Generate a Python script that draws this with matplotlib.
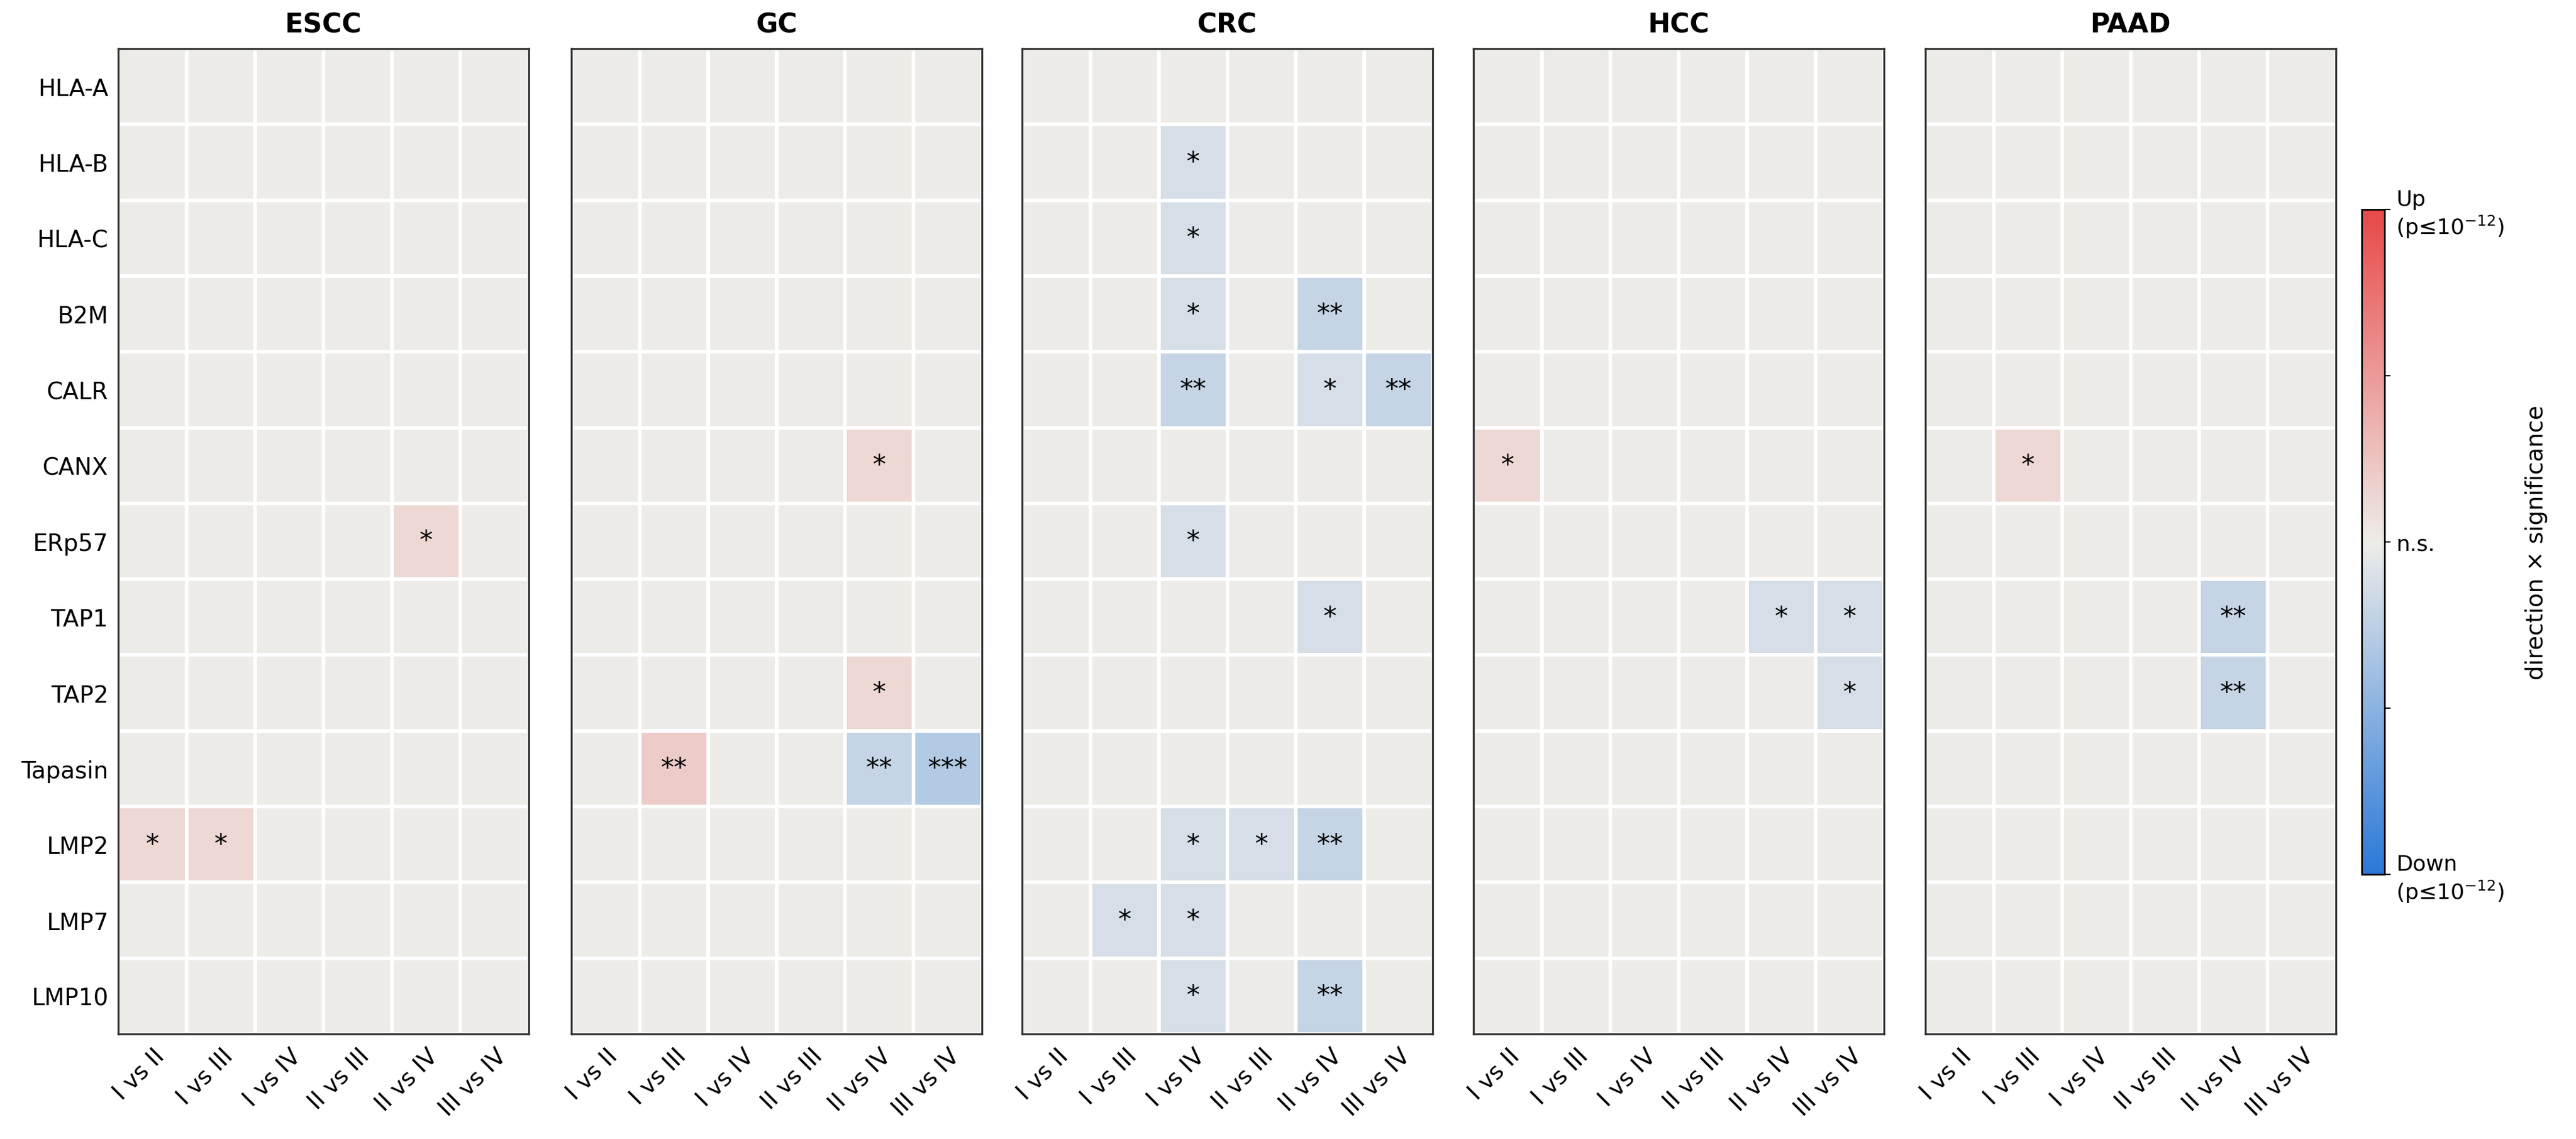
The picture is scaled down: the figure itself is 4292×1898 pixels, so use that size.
import matplotlib
matplotlib.use('Agg')
import matplotlib.pyplot as plt
from matplotlib.colors import LinearSegmentedColormap
import numpy as np

cancers = ['ESCC', 'GC', 'CRC', 'HCC', 'PAAD']
genes = ['HLA-A', 'HLA-B', 'HLA-C', 'B2M', 'CALR', 'CANX', 'ERp57',
         'TAP1', 'TAP2', 'Tapasin', 'LMP2', 'LMP7', 'LMP10']
comps = ['I vs II', 'I vs III', 'I vs IV', 'II vs III', 'II vs IV', 'III vs IV']

# signed significance level (stars), (gene, comparison, level)
hits = {
    'ESCC': [('ERp57', 'II vs IV', 1), ('LMP2', 'I vs II', 1), ('LMP2', 'I vs III', 1)],
    'GC': [('CANX', 'II vs IV', 1), ('TAP2', 'II vs IV', 1), ('Tapasin', 'I vs III', 2),
           ('Tapasin', 'II vs IV', -2), ('Tapasin', 'III vs IV', -3)],
    'CRC': [('HLA-B', 'I vs IV', -1), ('HLA-C', 'I vs IV', -1), ('B2M', 'I vs IV', -1),
            ('B2M', 'II vs IV', -2), ('CALR', 'I vs IV', -2), ('CALR', 'II vs IV', -1),
            ('CALR', 'III vs IV', -2), ('ERp57', 'I vs IV', -1), ('TAP1', 'II vs IV', -1),
            ('LMP2', 'I vs IV', -1), ('LMP2', 'II vs III', -1), ('LMP2', 'II vs IV', -2),
            ('LMP7', 'I vs III', -1), ('LMP7', 'I vs IV', -1), ('LMP10', 'I vs IV', -1),
            ('LMP10', 'II vs IV', -2)],
    'HCC': [('CANX', 'I vs II', 1), ('TAP1', 'II vs IV', -1), ('TAP1', 'III vs IV', -1),
            ('TAP2', 'III vs IV', -1)],
    'PAAD': [('CANX', 'I vs III', 1), ('TAP1', 'II vs IV', -2), ('TAP2', 'II vs IV', -2)],
}
# approx -log10(p) per star level
level_value = {1: 1.5, 2: 2.5, 3: 3.6}

cmap = LinearSegmentedColormap.from_list('dirsig', ['#2a78d8', '#eeede9', '#e84848'])

fig = plt.figure(figsize=(21.46, 9.495), dpi=200)
lefts = [197, 952, 1703, 2455, 3208]
W, H = 4292, 1899
pw = 684
top, bot = 82, 1724

for i, c in enumerate(cancers):
    ax = fig.add_axes([lefts[i] / W, 1 - bot / H, pw / W, (bot - top) / H])
    val = np.zeros((len(genes), len(comps)))
    lab = [['' for _ in comps] for _ in genes]
    for g, cp, lv in hits[c]:
        r, k = genes.index(g), comps.index(cp)
        val[r, k] = np.sign(lv) * level_value[abs(lv)]
        lab[r][k] = '*' * abs(lv)
    mesh = ax.pcolormesh(val, cmap=cmap, vmin=-12, vmax=12,
                         edgecolors='white', linewidth=2)
    for r in range(len(genes)):
        for k in range(len(comps)):
            if lab[r][k]:
                ax.text(k + 0.5, r + 0.5, lab[r][k], ha='center', va='center',
                        fontsize=16, color='black')
    ax.set_xlim(0, len(comps))
    ax.set_ylim(len(genes), 0)
    ax.set_xticks(np.arange(len(comps)) + 0.5)
    ax.set_xticklabels(comps, rotation=45, ha='right', rotation_mode='anchor', fontsize=14)
    if i == 0:
        ax.set_yticks(np.arange(len(genes)) + 0.5)
        ax.set_yticklabels(genes, fontsize=14)
    else:
        ax.set_yticks([])
    ax.tick_params(length=0, pad=6)
    ax.set_title(c, fontsize=16, fontweight='bold', pad=10)
    for s in ax.spines.values():
        s.set_color('#333333')
        s.set_linewidth(1.2)

cax = fig.add_axes([3935 / W, 1 - 1458 / H, 38 / W, (1458 - 350) / H])
cb = fig.colorbar(mesh, cax=cax, ticks=[-12, -6, 0, 6, 12])
cb.set_ticklabels(['Down\n(p≤10$^{-12}$)', '', 'n.s.', '', 'Up\n(p≤10$^{-12}$)'], fontsize=13)
cb.set_label('direction × significance', fontsize=14, labelpad=12)
cb.outline.set_linewidth(1)

fig.savefig('out.png', dpi=200)
